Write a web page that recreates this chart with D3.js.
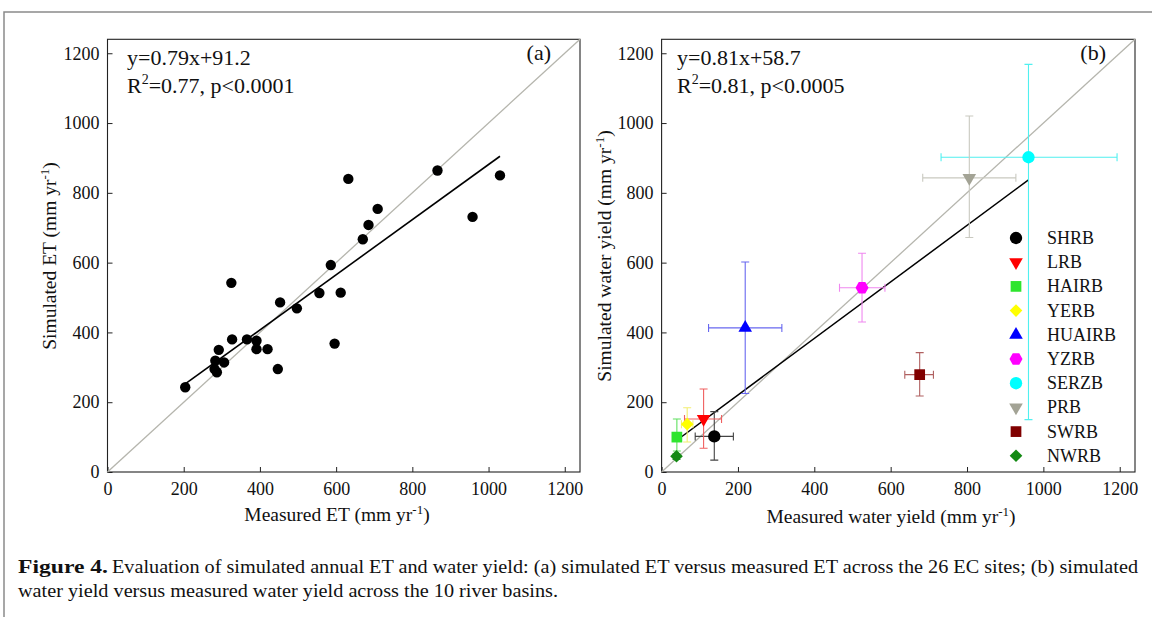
<!DOCTYPE html>
<html><head><meta charset="utf-8">
<script src="https://cdn.jsdelivr.net/npm/d3@7"></script>
<style>
body{margin:0;background:#fff}
svg{display:block}
text{font-family:"Liberation Serif","Times New Roman",serif;fill:#111}
</style>
</head><body>
<svg id="c" width="1152" height="617"></svg>
<script>
// ---------- data ----------
const etMeasured  = [204,281,287,283,306,292,327,325,366,391,391,420,447,453,497,556,612,596,586,632,670,685,709,866,1030,958];
const etSimulated = [243,295,286,319,314,350,380,542,380,376,352,352,295,486,469,513,514,368,593,840,667,708,754,864,850,731];
const basins       = ["SHRB","LRB","HAIRB","YERB","HUAIRB","YZRB","SERZB","PRB","SWRB","NWRB"];
const wyMeasured   = [138,110,40,67,219,525,961,806,676,39];
const wySimulated  = [102,152,100,137,413,528,902,843,279,45];
const wyMeasLow    = [88,60,32,52,123,466,732,684,637,35];
const wyMeasHigh   = [188,157,48,82,315,585,1193,928,712,44];
const wySimLow     = [34,68,60,86,225,430,150,672,218,36];
const wySimHigh    = [173,238,152,184,602,627,1168,1020,342,52];
const tickValues   = [0,200,400,600,800,1000,1200];
const fitSlopes    = [0.79,0.81];
const fitIntercepts= [91.2,58.7];
const fitTexts     = ["y=0.79x+91.2","y=0.81x+58.7"];
const statTexts    = [["0.77","p<0.0001"],["0.81","p<0.0005"]];

// ---------- styles ----------
const markerColors = ["#000000","#ff0000","#2ee52e","#ffff00","#0000ff","#ff00ff","#00ffff","#a3a395","#800000","#138a13"];
const errColors    = ["#444444","#f06060","#60e060","#f2ee70","#6868f0","#f088f0","#50f0f0","#c9c9c0","#b06060","#3a8f3a"];
const symbolHexagon = {draw(ctx,size){const r=Math.sqrt(2*size/(3*Math.sqrt(3)));for(let i=0;i<6;i++){const a=Math.PI/3*i;const x=r*Math.cos(a),y=r*Math.sin(a);if(i===0)ctx.moveTo(x,y);else ctx.lineTo(x,y);}ctx.closePath();}};
const symSpec = [
  {t:d3.symbolCircle,s:120,r:0},{t:d3.symbolTriangle,s:80,r:180},{t:d3.symbolSquare,s:115,r:0},
  {t:d3.symbolSquare,s:80,r:45},{t:d3.symbolTriangle,s:80,r:0},{t:symbolHexagon,s:110,r:0},
  {t:d3.symbolCircle,s:120,r:0},{t:d3.symbolTriangle,s:80,r:180},{t:d3.symbolSquare,s:115,r:0},
  {t:d3.symbolSquare,s:80,r:45}];

const svg = d3.select("#c");
// page frame
svg.append("path").attr("d","M4,617 V12 H1152").attr("fill","none").attr("stroke","#8a8a8a").attr("stroke-width",1.5);

const yTop=39.3, yBot=472;
const fmt=d3.format("d");
function panel(x0,x1){
  const x=d3.scaleLinear([0,1240],[x0,x1]);
  const y=d3.scaleLinear([0,1240],[yBot,yTop]);
  const g=svg.append("g");
  const gx=g.append("g").attr("transform",`translate(0,${yBot})`)
    .call(d3.axisBottom(x).tickValues(tickValues).tickFormat(fmt).tickSizeInner(-5).tickSizeOuter(0).tickPadding(10));
  const gy=g.append("g").attr("transform",`translate(${x0},0)`)
    .call(d3.axisLeft(y).tickValues(tickValues).tickFormat(fmt).tickSizeInner(-5).tickSizeOuter(0).tickPadding(8));
  [gx,gy].forEach(a=>{a.select(".domain").remove();a.selectAll("line").attr("stroke","#222");
    a.selectAll("text").attr("font-size",18).attr("font-family","Liberation Serif").attr("fill","#111");});
  g.append("rect").attr("x",x0).attr("y",yTop).attr("width",x1-x0).attr("height",yBot-yTop)
    .attr("fill","none").attr("stroke","#222").attr("stroke-width",1.1);
  // 1:1 line
  g.append("line").attr("x1",x(0)).attr("y1",y(0)).attr("x2",x(1240)).attr("y2",y(1240))
    .attr("stroke","#b5b5ad").attr("stroke-width",1.3);
  return {x,y,g};
}

function titleWithSup(sel,main){
  sel.append("tspan").text(main);
  sel.append("tspan").attr("dy",-7).attr("font-size",13).text("-1");
  sel.append("tspan").attr("dy",7).text(")");
}

function annot(g,x,idx,label,xl){
  g.append("text").attr("x",x).attr("y",65).attr("font-size",22).text(fitTexts[idx]);
  const t=g.append("text").attr("x",x).attr("y",93).attr("font-size",22);
  t.append("tspan").text("R");
  t.append("tspan").attr("dy",-9).attr("font-size",14).text("2");
  t.append("tspan").attr("dy",9).text("="+statTexts[idx][0]+", "+statTexts[idx][1]);
  g.append("text").attr("x",xl).attr("y",60).attr("font-size",22).attr("text-anchor","end").text(label);
}

// ---------- panel (a) ----------
const A=panel(107.5,580);
{
  const ext=d3.extent(etMeasured);
  A.g.append("line").attr("x1",A.x(ext[0])).attr("y1",A.y(fitSlopes[0]*ext[0]+fitIntercepts[0]))
    .attr("x2",A.x(ext[1])).attr("y2",A.y(fitSlopes[0]*ext[1]+fitIntercepts[0]))
    .attr("stroke","#000").attr("stroke-width",1.6);
  A.g.selectAll("circle.pt").data(etMeasured).join("circle").attr("class","pt")
    .attr("cx",d=>A.x(d)).attr("cy",(d,i)=>A.y(etSimulated[i])).attr("r",5.2).attr("fill","#000");
  annot(A.g,127,0,"(a)",551);
  const tx=A.g.append("text").attr("x",337).attr("y",521).attr("font-size",19.5).attr("text-anchor","middle");
  titleWithSup(tx,"Measured ET (mm yr");
  const ty=A.g.append("text").attr("transform","translate(56,256) rotate(-90)").attr("font-size",19.5).attr("text-anchor","middle");
  titleWithSup(ty,"Simulated ET (mm yr");
}

// ---------- panel (b) ----------
const B=panel(661.6,1135);
{
  const ext=d3.extent(wyMeasured);
  B.g.append("line").attr("x1",B.x(ext[0])).attr("y1",B.y(fitSlopes[1]*ext[0]+fitIntercepts[1]))
    .attr("x2",B.x(ext[1])).attr("y2",B.y(fitSlopes[1]*ext[1]+fitIntercepts[1]))
    .attr("stroke","#000").attr("stroke-width",1.5);
  const cap=4;
  const eg=B.g.append("g").attr("stroke-width",1.1);
  basins.forEach((b,i)=>{
    const c=errColors[i], cx=B.x(wyMeasured[i]), cy=B.y(wySimulated[i]);
    const xl=B.x(wyMeasLow[i]), xh=B.x(wyMeasHigh[i]), yl=B.y(wySimLow[i]), yh=B.y(wySimHigh[i]);
    const p=d3.path();
    p.moveTo(xl,cy);p.lineTo(xh,cy);
    p.moveTo(xl,cy-cap);p.lineTo(xl,cy+cap);p.moveTo(xh,cy-cap);p.lineTo(xh,cy+cap);
    p.moveTo(cx,yl);p.lineTo(cx,yh);
    p.moveTo(cx-cap,yl);p.lineTo(cx+cap,yl);p.moveTo(cx-cap,yh);p.lineTo(cx+cap,yh);
    eg.append("path").attr("d",p.toString()).attr("fill","none").attr("stroke",c);
  });
  basins.forEach((b,i)=>{
    const s=symSpec[i];
    B.g.append("path").attr("d",d3.symbol().type(s.t).size(s.s)())
      .attr("transform",`translate(${B.x(wyMeasured[i])},${B.y(wySimulated[i])}) rotate(${s.r})`)
      .attr("fill",markerColors[i]);
  });
  // legend
  const lg=B.g.append("g");
  basins.forEach((b,i)=>{
    const s=symSpec[i], yy=238+i*24.2;
    lg.append("path").attr("d",d3.symbol().type(s.t).size(s.s)())
      .attr("transform",`translate(1016,${yy}) rotate(${s.r})`).attr("fill",markerColors[i]);
    lg.append("text").attr("x",1047).attr("y",yy+6).attr("font-size",18).text(b);
  });
  annot(B.g,677,1,"(b)",1106);
  const tx=B.g.append("text").attr("x",891).attr("y",523).attr("font-size",19.5).attr("text-anchor","middle");
  titleWithSup(tx,"Measured water yield (mm yr");
  const ty=B.g.append("text").attr("transform","translate(611,256) rotate(-90)").attr("font-size",19.5).attr("text-anchor","middle");
  titleWithSup(ty,"Simulated water yield (mm yr");
}

// ---------- caption ----------
svg.append("text").attr("x",18).attr("y",573).attr("font-size",19).attr("font-weight","bold")
  .attr("textLength",90).attr("lengthAdjust","spacingAndGlyphs").text("Figure 4.");
svg.append("text").attr("x",112).attr("y",573).attr("font-size",19)
  .attr("textLength",1026).attr("lengthAdjust","spacingAndGlyphs")
  .text("Evaluation of simulated annual ET and water yield: (a) simulated ET versus measured ET across the 26 EC sites; (b) simulated");
svg.append("text").attr("x",18).attr("y",597).attr("font-size",19)
  .attr("textLength",540).attr("lengthAdjust","spacingAndGlyphs")
  .text("water yield versus measured water yield across the 10 river basins.");
</script>
</body></html>
